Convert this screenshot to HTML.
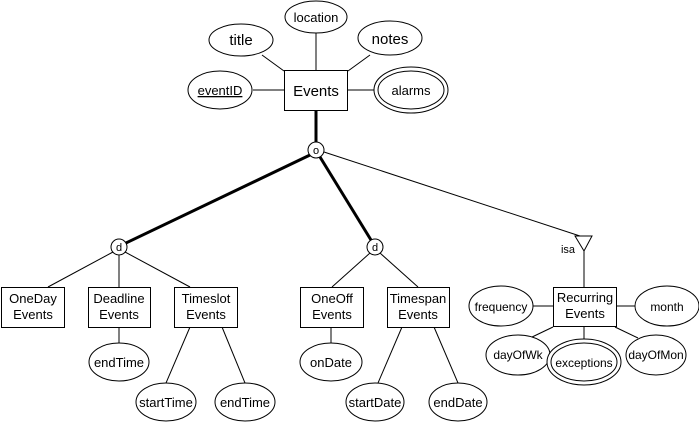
<!DOCTYPE html>
<html><head><style>body{margin:0;background:#fff}svg{display:block}</style></head><body>
<svg width="699" height="422" viewBox="0 0 699 422" xmlns="http://www.w3.org/2000/svg" font-family="Liberation Sans, sans-serif" font-size="13" text-anchor="middle">
<g stroke="#000" fill="none" stroke-width="1">
<line x1="316" y1="33" x2="316" y2="70"/>
<line x1="262" y1="55" x2="284" y2="71"/>
<line x1="370" y1="55" x2="348" y2="71"/>
<line x1="253" y1="90" x2="284" y2="90"/>
<line x1="348" y1="90" x2="374" y2="90"/>
<line x1="316" y1="110" x2="316" y2="142" stroke-width="3"/>
<line x1="310" y1="155" x2="126" y2="243" stroke-width="3"/>
<line x1="320" y1="157" x2="371" y2="240" stroke-width="3"/>
<line x1="324" y1="152" x2="583" y2="237"/>
<line x1="113" y1="252" x2="48" y2="287"/>
<line x1="119" y1="255" x2="119" y2="287"/>
<line x1="125" y1="252" x2="190" y2="287"/>
<line x1="119" y1="327" x2="119" y2="343"/>
<line x1="190" y1="327" x2="166" y2="383"/>
<line x1="222" y1="327" x2="245" y2="383"/>
<line x1="370" y1="253" x2="332" y2="287"/>
<line x1="380" y1="253" x2="418" y2="287"/>
<line x1="331" y1="327" x2="331" y2="343"/>
<line x1="402" y1="327" x2="378" y2="383"/>
<line x1="434" y1="327" x2="458" y2="383"/>
<line x1="584" y1="251" x2="584" y2="287"/>
<line x1="533" y1="306" x2="553" y2="306"/>
<line x1="616" y1="306" x2="635" y2="306"/>
<line x1="553" y1="327" x2="530" y2="338"/>
<line x1="584" y1="327" x2="584" y2="339"/>
<line x1="615" y1="327" x2="638" y2="338"/>
<g fill="#fff">
<ellipse cx="241" cy="40" rx="32" ry="16"/>
<ellipse cx="316" cy="17" rx="31" ry="16"/>
<ellipse cx="390" cy="38" rx="32" ry="17"/>
<ellipse cx="220" cy="90" rx="32" ry="19"/>
<ellipse cx="411" cy="90" rx="37" ry="23"/>
<ellipse cx="411" cy="90" rx="33" ry="19"/>
<rect x="284.5" y="70.5" width="63" height="40"/>
<circle cx="316" cy="150" r="8"/>
<circle cx="119" cy="247" r="8"/>
<circle cx="375" cy="247" r="8"/>
<polygon points="575,236 592,236 584,251"/>
<rect x="1.5" y="287.5" width="63" height="40"/>
<rect x="88.5" y="287.5" width="62" height="40"/>
<rect x="174.5" y="287.5" width="63" height="40"/>
<rect x="300.5" y="287.5" width="63" height="40"/>
<rect x="387.5" y="287.5" width="62" height="40"/>
<rect x="553.5" y="287.5" width="63" height="39"/>
<ellipse cx="119" cy="362" rx="30" ry="19"/>
<ellipse cx="166" cy="402" rx="30" ry="19"/>
<ellipse cx="245" cy="402" rx="30" ry="19"/>
<ellipse cx="331" cy="362" rx="31" ry="19"/>
<ellipse cx="375" cy="402" rx="29" ry="19"/>
<ellipse cx="458" cy="402" rx="29" ry="19"/>
<ellipse cx="501" cy="306" rx="32" ry="20"/>
<ellipse cx="667" cy="306" rx="32" ry="20"/>
<ellipse cx="518" cy="355" rx="32" ry="20"/>
<ellipse cx="656" cy="355" rx="30" ry="20"/>
<ellipse cx="584" cy="362" rx="37" ry="23"/>
<ellipse cx="584" cy="362" rx="33" ry="19"/>
</g>
</g>
<g fill="#000">
<text x="241" y="45" font-size="15">title</text>
<text x="316" y="22">location</text>
<text x="390" y="44" font-size="15">notes</text>
<text x="220" y="95" text-decoration="underline">eventID</text>
<text x="411" y="95">alarms</text>
<text x="316" y="96" font-size="15">Events</text>
<text x="316" y="154" font-size="11">o</text>
<text x="119" y="251" font-size="11">d</text>
<text x="375" y="251" font-size="11">d</text>
<text x="568" y="253" font-size="11">isa</text>
<text x="33" y="303">OneDay</text><text x="33" y="319">Events</text>
<text x="119" y="303">Deadline</text><text x="119" y="319">Events</text>
<text x="206" y="303">Timeslot</text><text x="206" y="319">Events</text>
<text x="332" y="303">OneOff</text><text x="332" y="319">Events</text>
<text x="418" y="303">Timespan</text><text x="418" y="319">Events</text>
<text x="585" y="302">Recurring</text><text x="585" y="318">Events</text>
<text x="119" y="367">endTime</text>
<text x="166" y="407">startTime</text>
<text x="245" y="407">endTime</text>
<text x="331" y="367">onDate</text>
<text x="375" y="407">startDate</text>
<text x="458" y="407">endDate</text>
<text x="501" y="311" font-size="12">frequency</text>
<text x="667" y="311" font-size="12">month</text>
<text x="518" y="359" font-size="12">dayOfWk</text>
<text x="656" y="359" font-size="12">dayOfMon</text>
<text x="584" y="367" font-size="12">exceptions</text>
</g>
</svg>
</body></html>
